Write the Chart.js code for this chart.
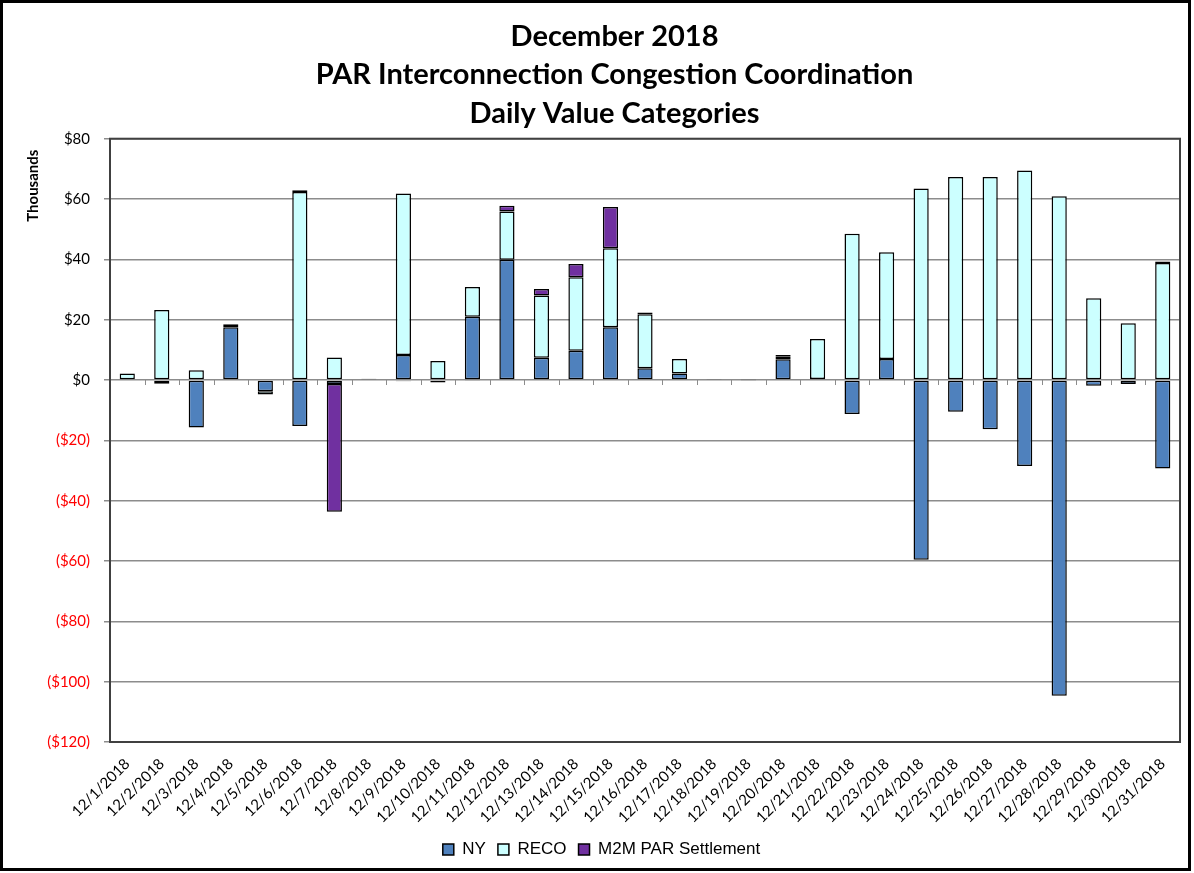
<!DOCTYPE html>
<html>
<head>
<meta charset="utf-8">
<script src="https://cdn.jsdelivr.net/npm/chart.js@4.4.0/dist/chart.umd.min.js"></script>
<style>
  body { margin: 0; background: #fff; }
  #frame { width: 1191px; height: 871px; border: 3px solid #000; box-sizing: border-box; }
  canvas { display: block; }
</style>
</head>
<body>
<div id="frame"><canvas id="chart_par" width="1185" height="865"></canvas></div>
<script>
var days = ['12/1/2018', '12/2/2018', '12/3/2018', '12/4/2018', '12/5/2018', '12/6/2018', '12/7/2018',
    '12/8/2018', '12/9/2018', '12/10/2018', '12/11/2018', '12/12/2018', '12/13/2018', '12/14/2018',
    '12/15/2018', '12/16/2018', '12/17/2018', '12/18/2018', '12/19/2018', '12/20/2018', '12/21/2018',
    '12/22/2018', '12/23/2018', '12/24/2018', '12/25/2018', '12/26/2018', '12/27/2018', '12/28/2018',
    '12/29/2018', '12/30/2018', '12/31/2018'];

// values in thousands of dollars
var ny = [0, -1.2, -15.7, 17.5, -3.7, -15.2, -1.3, 0.3, 8.3, -0.8, 21.0, 39.9, 7.4, 9.7, 17.5, 3.9,
    2.2, 0.3, 0.2, 6.9, 0.3, -11.3, 7.0, -59.6, -10.5, -16.3, -28.5, -104.7, -1.9, -1.3, -29.3];
var reco = [2.2, 23.2, 3.2, 1.0, -1.1, 62.3, 7.5, 0.1, 53.5, 6.3, 9.8, 16.0, 20.6, 24.4, 26.2, 17.9,
    4.8, 0, -0.3, 0.8, 13.3, 48.5, 35.4, 63.5, 67.3, 67.3, 69.5, 60.9, 27.1, 18.8, 38.8];
var m2m = [0, 0, 0, 0, 0, 0.6, -42.4, 0, -0.4, 0, -0.3, 1.9, 2.2, 4.4, 13.7, 0.6,
    0, 0, 0, 0.6, 0, 0, 0, 0, 0, 0, 0, 0, 0, 0, 0.5];

var yTicks = [80, 60, 40, 20, 0, -20, -40, -60, -80, -100, -120];

function noZero(arr) {
    return arr.map(function (v) { return v === 0 ? null : v; });
}

// frame of the plot, axis ticks on the zero line and the 'Thousands' caption
var plotExtras = {
    id: 'plotExtras',
    afterLayout: function (chart) {
        // title and legend sit a bit right of the canvas centre, like in Excel
        chart.titleBlock.left += 23;
        chart.titleBlock.right += 23;
        chart.legend.left += 10;
        chart.legend.right += 10;
    },
    afterDraw: function (chart) {
        var c = chart.ctx, a = chart.chartArea;
        var y0 = chart.scales.y.getPixelForValue(0);
        var step = (a.right - a.left) / days.length;
        c.save();
        c.strokeStyle = '#8c8c8c';
        c.lineWidth = 1;
        for (var i = 0; i <= days.length; i++) {
            var x = Math.round(a.left + i * step) + 0.5;
            c.beginPath();
            c.moveTo(x, y0);
            c.lineTo(x, y0 + 5);
            c.stroke();
        }
        c.strokeStyle = '#404040';
        c.lineWidth = 2;
        c.strokeRect(a.left, a.top, a.right - a.left, a.bottom - a.top);
        c.translate(a.left - 77, a.top + 47);
        c.rotate(-Math.PI / 2);
        c.fillStyle = '#000';
        c.font = 'bold 15px Lato';
        c.textAlign = 'center';
        c.textBaseline = 'middle';
        c.fillText('Thousands', 0, 0);
        c.restore();
    }
};

var ctx = document.getElementById('chart_par').getContext('2d');
var chart = new Chart(ctx, {
    type: 'bar',
    data: {
        labels: days,
        datasets: [{
            label: 'NY',
            data: noZero(ny),
            backgroundColor: '#4f81bd'
        }, {
            label: 'RECO',
            data: noZero(reco),
            backgroundColor: '#ccffff'
        }, {
            label: 'M2M PAR Settlement',
            data: noZero(m2m),
            backgroundColor: '#7030a0'
        }]
    },
    options: {
        responsive: false,
        animation: false,
        datasets: {
            bar: {
                borderColor: '#000',
                borderWidth: 1.5,
                borderSkipped: false,
                categoryPercentage: 1,
                barPercentage: 0.44
            }
        },
        layout: { padding: { left: 0, right: 8, top: 0, bottom: 0 } },
        plugins: {
            title: {
                display: true,
                text: ['December 2018', 'PAR Interconnection Congestion Coordination', 'Daily Value Categories'],
                color: '#000',
                font: { family: 'Lato', size: 29, weight: 'bold', lineHeight: 1.33 },
                padding: { top: 14, bottom: 6 }
            },
            legend: {
                position: 'bottom',
                labels: {
                    color: '#000',
                    font: { family: 'Liberation Sans', size: 17 },
                    boxWidth: 11,
                    boxHeight: 11,
                    padding: 12
                }
            },
            tooltip: { enabled: false }
        },
        scales: {
            x: {
                stacked: true,
                grid: { display: false },
                border: { display: false },
                ticks: {
                    color: '#000',
                    font: { family: 'Lato', size: 15 },
                    minRotation: 45,
                    maxRotation: 45,
                    autoSkip: false,
                    padding: 5
                },
                afterFit: function (s) { s.height = 87; }
            },
            y: {
                stacked: true,
                min: -120,
                max: 80,
                afterBuildTicks: function (s) {
                    s.ticks = yTicks.map(function (v) { return { value: v }; });
                },
                grid: { color: '#8c8c8c', lineWidth: 1.5, tickLength: 6 },
                border: { display: false },
                ticks: {
                    font: { family: 'Lato', size: 15 },
                    color: function (c) { return c.tick.value < 0 ? '#ff0000' : '#000'; },
                    padding: 14,
                    callback: function (v) { return v < 0 ? '($' + (-v) + ')' : '$' + v; }
                },
                afterFit: function (s) { s.width = 107; }
            }
        }
    },
    plugins: [plotExtras]
});
</script>
</body>
</html>
